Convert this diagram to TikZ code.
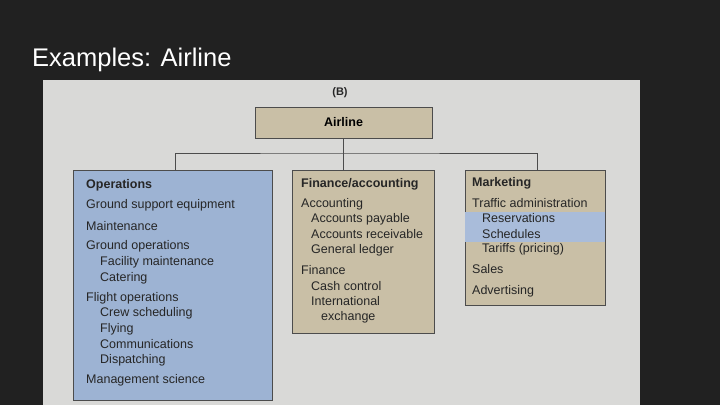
\documentclass[tikz,border=0pt]{standalone}
\usepackage{fontspec}
\setmainfont{Liberation Sans}
\begin{document}
\begin{tikzpicture}[x=1pt,y=-1pt,
  txt/.style={anchor=west,inner sep=0pt,font=\fontsize{12.5}{13}\selectfont,text=black!85},
  bt/.style={txt,font=\fontsize{12.5}{13}\selectfont\bfseries},
  tanbox/.style={fill=tan,draw=black!70,line width=0.8pt},
  bluebox/.style={fill=opblue,draw=black!70,line width=0.8pt},
  conn/.style={draw=black!70,line width=1pt}]
\definecolor{bg}{HTML}{212121}
\definecolor{paper}{HTML}{D9D9D7}
\definecolor{tan}{HTML}{C9BFA6}
\definecolor{opblue}{HTML}{9DB3D3}
\definecolor{hl}{HTML}{A9BCDA}
\fill[bg] (0,0) rectangle (720,405);
\useasboundingbox (0,0) rectangle (720,405);
\node[anchor=west,inner sep=0pt,text=white,font=\fontsize{25.5}{28}\selectfont] (title) at (32,60) {Examples: Airline};
\fill[paper] (43,80) rectangle (640,405);
\node[font=\fontsize{11}{12}\selectfont\bfseries,text=black!85] (b) at (340,93) {(B)};
\node[tanbox,minimum width=177,minimum height=31] (air) at (343.5,122.5) {\fontsize{12.5}{13}\selectfont\bfseries Airline};
\node[bluebox,minimum width=199,minimum height=230] (ops) at (172.5,285) {};
\node[tanbox,minimum width=142,minimum height=163] (fin) at (363,251.5) {};
\node[tanbox,minimum width=140,minimum height=135] (mkt) at (535,237.5) {};
\fill[hl] ([xshift=0.4pt]mkt.west |- 0,212) rectangle ([xshift=-0.4pt]mkt.east |- 0,242);
\coordinate (j) at (343.5,153);
\draw[conn] (air.south) -- (j);
\draw[conn] (ops.north -| 175,0) |- (j) -| (mkt.north -| 537,0);
\draw[conn] (j) -- (fin.north -| 343.5,0);
% Operations
\node[bt] (o0) at (86,185) {Operations};
\node[txt] (o1) at (86,205) {Ground support equipment};
\node[txt] (o2) at (86,226) {Maintenance};
\node[txt] (o3) at (86,246) {Ground operations};
\node[txt] (o4) at (100,262) {Facility maintenance};
\node[txt] (o5) at (100,278) {Catering};
\node[txt] (o6) at (86,298) {Flight operations};
\node[txt] (o7) at (100,313) {Crew scheduling};
\node[txt] (o8) at (100,329) {Flying};
\node[txt] (o9) at (100,344) {Communications};
\node[txt] (o10) at (100,360) {Dispatching};
\node[txt] (o11) at (86,380) {Management science};
% Finance
\node[bt] (f0) at (301,184) {Finance/accounting};
\node[txt] (f1) at (301,204) {Accounting};
\node[txt] (f2) at (311,219) {Accounts payable};
\node[txt] (f3) at (311,234) {Accounts receivable};
\node[txt] (f4) at (311,250) {General ledger};
\node[txt] (f5) at (301,270) {Finance};
\node[txt] (f6) at (311,286) {Cash control};
\node[txt] (f7) at (311,301) {International};
\node[txt] (f8) at (321,317) {exchange};
% Marketing
\node[bt] (m0) at (472,183) {Marketing};
\node[txt] (m1) at (472,203) {Traffic administration};
\node[txt] (m2) at (482,218) {Reservations};
\node[txt] (m3) at (482,234) {Schedules};
\node[txt] (m4) at (482,249) {Tariffs (pricing)};
\node[txt] (m5) at (472,269) {Sales};
\node[txt] (m6) at (472,291) {Advertising};
\end{tikzpicture}
\end{document}
